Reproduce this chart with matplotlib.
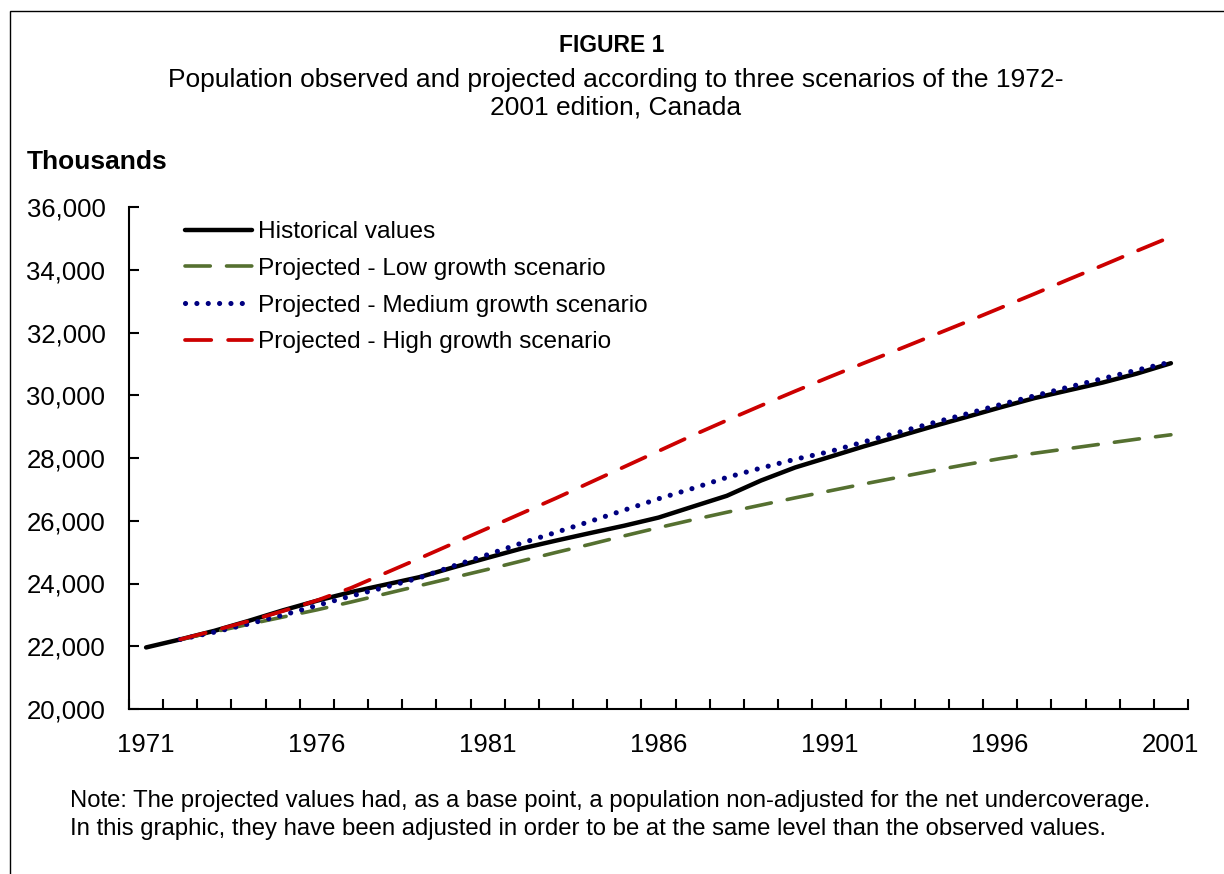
import matplotlib
matplotlib.use('Agg')  # no display available
import matplotlib.pyplot as pyplot
from matplotlib.patches import Rectangle
from matplotlib.ticker import FuncFormatter

# Population in thousands
years_hist = list(range(1971, 2002))
historical = [21962, 22218, 22492, 22808, 23143, 23450, 23726, 23963, 24202, 24516,
              24820, 25117, 25367, 25608, 25843, 26101, 26449, 26795, 27282, 27698,
              28031, 28367, 28682, 28999, 29302, 29611, 29907, 30157, 30404, 30689,
              31021]

years_proj = list(range(1972, 2002))
low_growth = [22218, 22460, 22700, 22930, 23160, 23410, 23670, 23930, 24190, 24450,
              24720, 24990, 25250, 25520, 25780, 26030, 26270, 26500, 26730, 26950,
              27170, 27380, 27590, 27790, 27980, 28150, 28300, 28450, 28600, 28740]
medium_growth = [22218, 22450, 22710, 22990, 23300, 23600, 23880, 24180, 24560, 24920,
                 25290, 25630, 25980, 26340, 26700, 27030, 27380, 27680, 27960, 28200,
                 28510, 28810, 29110, 29400, 29700, 29980, 30260, 30530, 30800, 31060]
high_growth = [22218, 22500, 22800, 23120, 23460, 23860, 24330, 24800, 25280, 25760,
               26240, 26720, 27220, 27720, 28220, 28720, 29200, 29670, 30130, 30580,
               31020, 31450, 31890, 32330, 32780, 33230, 33690, 34140, 34600, 35050]

series_labels = ['Historical values',
                 'Projected - Low growth scenario',
                 'Projected - Medium growth scenario',
                 'Projected - High growth scenario']
xtick_years = [1971, 1976, 1981, 1986, 1991, 1996, 2001]
ytick_values = [20000, 22000, 24000, 26000, 28000, 30000, 32000, 34000, 36000]

title = 'FIGURE 1'
subtitle = ('Population observed and projected according to three scenarios of the 1972-\n'
            '2001 edition, Canada')
unit_label = 'Thousands'
note = ('Note: The projected values had, as a base point, a population non-adjusted for the net undercoverage.\n'
        'In this graphic, they have been adjusted in order to be at the same level than the observed values.')

W, H = 1224, 874


def fx(px):
    return px / W


def fy(py):
    return 1 - py / H


def main():
    pyplot.rcParams['font.family'] = ['Liberation Sans', 'DejaVu Sans']

    fig = pyplot.figure(figsize=(W / 100, H / 100), dpi=100)
    fig.patch.set_facecolor('white')

    # frame around the figure (right and bottom edges run off the page)
    fig.add_artist(Rectangle((fx(10), -0.5), 2, fy(10.5) + 0.5,
                             transform=fig.transFigure, fill=False,
                             lw=1.0, ec='black'))

    ax = fig.add_axes([fx(129), fy(709), (1188 - 129) / W, (709 - 207) / H])

    ax.plot(years_hist, historical, color='black', lw=3.2,
            solid_capstyle='round', label=series_labels[0])
    ax.plot(years_proj, low_growth, color='#557030', lw=2.6,
            dashes=(7.0, 4.5), dash_capstyle='round', label=series_labels[1])
    ax.plot(years_proj, medium_growth, color='#000080', lw=3.7,
            dashes=(0.01, 2.2), dash_capstyle='round', label=series_labels[2])
    ax.plot(years_proj, high_growth, color='#CC0000', lw=2.7,
            dashes=(7.0, 4.5), dash_capstyle='round', label=series_labels[3])

    ax.set_xlim(1970.5, 2001.5)
    ax.set_ylim(20000, 36000)

    ax.set_xticks(xtick_years)
    ax.set_xticks([y + 0.5 for y in range(1970, 2002)], minor=True)
    ax.set_yticks(ytick_values)
    ax.yaxis.set_major_formatter(FuncFormatter(lambda v, p: f'{v:,.0f}'))

    ax.tick_params(axis='x', which='major', length=0, pad=17, labelsize=18.5)
    ax.tick_params(axis='x', which='minor', direction='in', length=7, width=1.5)
    ax.tick_params(axis='y', which='major', direction='in', length=7, width=1.5,
                   pad=17, labelsize=18.5)

    for side in ['top', 'right']:
        ax.spines[side].set_visible(False)
    for side in ['left', 'bottom']:
        ax.spines[side].set_linewidth(1.5)

    ax.legend(loc='upper left', bbox_to_anchor=(fx(185), fy(221)),
              bbox_transform=fig.transFigure, frameon=False, fontsize=17.6,
              handlelength=2.75, handletextpad=0.25, labelspacing=0.6,
              borderpad=0, borderaxespad=0)

    fig.text(0.5, fy(45), title, ha='center', va='center',
             fontsize=16.5, fontweight='bold')
    fig.text(fx(616), fy(94), subtitle, ha='center', va='center',
             fontsize=19, linespacing=1.18)
    fig.text(fx(27), fy(162), unit_label, ha='left', va='center',
             fontsize=19, fontweight='bold')
    fig.text(fx(70), fy(815), note, ha='left', va='center',
             fontsize=17.2, linespacing=1.32)

    fig.savefig('out.png', dpi=100, facecolor='white')


if __name__ == "__main__":
    main()
